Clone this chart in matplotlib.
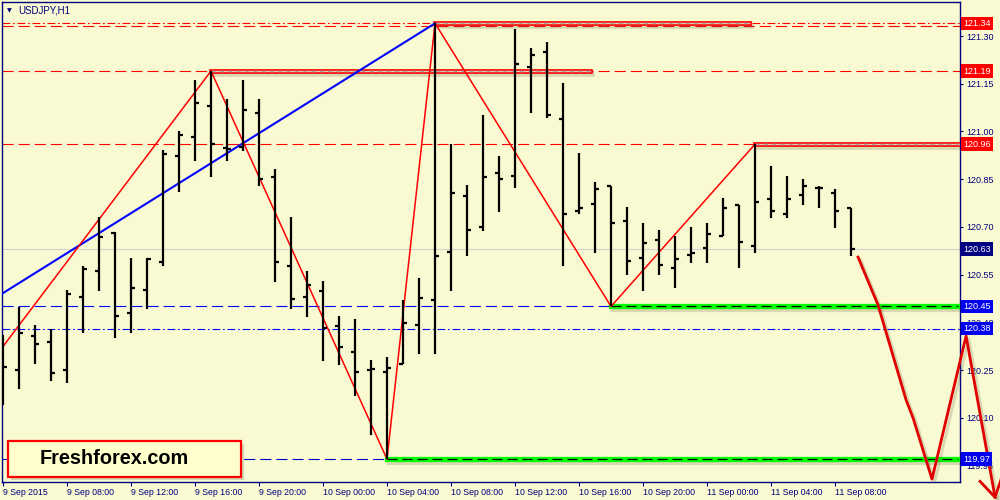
import matplotlib
matplotlib.use('Agg')
from matplotlib import pyplot as plt
from matplotlib import patheffects as pe
from matplotlib import transforms
from matplotlib.patches import Rectangle

plt.rcParams['font.family'] = ['Liberation Sans', 'DejaVu Sans']

# H1 bars, 9 Sep 04:00 .. 11 Sep 09:00
opens = [120.30, 120.25, 120.357, 120.338, 120.25, 120.48, 120.562, 120.681, 120.429, 120.501,
         120.589, 120.923, 120.984, 121.081, 120.947, 120.952, 121.059, 120.858, 120.577, 120.48,
         120.499, 120.389, 120.307, 120.25, 120.243, 120.269, 120.392, 120.47, 120.622, 120.798,
         120.699, 120.87, 120.861, 121.204, 121.251, 121.039, 120.75, 120.773, 120.829, 120.718,
         120.602, 120.659, 120.572, 120.612, 120.633, 120.671, 120.769, 120.64, 120.788, 120.74,
         120.80, 120.823, 120.807, 120.76]
highs = [120.36, 120.449, 120.391, 120.379, 120.501, 120.578, 120.731, 120.684, 120.602, 120.602,
         120.942, 121.001, 121.162, 121.19, 121.101, 121.162, 121.101, 120.881, 120.73, 120.561,
         120.53, 120.42, 120.409, 120.281, 120.29, 120.47, 120.54, 121.34, 120.96, 120.832,
         121.052, 120.923, 121.321, 121.261, 121.28, 121.151, 120.931, 120.84, 120.829, 120.762,
         120.712, 120.689, 120.671, 120.699, 120.711, 120.79, 120.769, 120.96, 120.891, 120.86,
         120.85, 120.828, 120.818, 120.76]
lows = [120.14, 120.19, 120.269, 120.215, 120.209, 120.367, 120.499, 120.351, 120.367, 120.442,
        120.578, 120.809, 120.908, 120.858, 120.908, 120.94, 120.829, 120.528, 120.441, 120.417,
        120.279, 120.266, 120.169, 120.045, 119.97, 120.269, 120.299, 120.299, 120.499, 120.609,
        120.688, 120.748, 120.821, 121.059, 121.041, 120.578, 120.739, 120.619, 120.45, 120.549,
        120.499, 120.549, 120.509, 120.587, 120.587, 120.671, 120.57, 120.619, 120.729, 120.729,
        120.769, 120.76, 120.697, 120.609]
closes = [120.26, 120.367, 120.333, 120.241, 120.489, 120.567, 120.669, 120.42, 120.508, 120.599,
          120.928, 120.99, 121.09, 120.961, 120.944, 121.067, 120.851, 120.59, 120.472, 120.517,
          120.381, 120.321, 120.243, 120.252, 120.257, 120.399, 120.477, 120.608, 120.807, 120.69,
          120.858, 120.851, 121.211, 121.241, 121.052, 120.741, 120.759, 120.819, 120.713, 120.592,
          120.65, 120.581, 120.60, 120.619, 120.678, 120.76, 120.653, 120.779, 120.751, 120.788,
          120.829, 120.823, 120.751, 120.631]

time_labels = ['9 Sep 2015', '9 Sep 08:00', '9 Sep 12:00', '9 Sep 16:00', '9 Sep 20:00',
               '10 Sep 00:00', '10 Sep 04:00', '10 Sep 08:00', '10 Sep 12:00', '10 Sep 16:00',
               '10 Sep 20:00', '11 Sep 00:00', '11 Sep 04:00', '11 Sep 08:00']
price_ticks = [119.95, 120.10, 120.25, 120.40, 120.55, 120.70, 120.85, 121.00, 121.15, 121.30]

# zigzag + trendline anchors (bar index, price)
zigzag_bars = [-0.06, 13, 24, 27, 38, 47]
zigzag_prices = [120.32, 121.19, 119.97, 121.34, 120.45, 120.96]
trend_bars = [-0.06, 27]
trend_prices = [120.49, 121.34]

# hand drawn forecast
forecast_bars = [53.44, 54.69, 56.44, 56.88, 58.06, 60.19, 62.0]
forecast_prices = [120.605, 120.454, 120.156, 120.099, 119.907, 120.357, 119.85]
arrow_bars = [61.06, 62.0, 62.4]
arrow_prices = [119.9, 119.85, 119.91]

# resistance boxes (red) and support lines (green)
res_levels = [121.34, 121.19, 120.96]
res_start = [27, 13, 47]
res_end = [46.6, 36.7, 59.8]
sup_levels = [120.45, 119.97]
sup_start = [38, 24]
sup_end = [59.7, 59.7]

last_price = 120.63

bg = '#FAFAD2'
navy = '#000080'

fig = plt.figure(figsize=(10, 5), dpi=100, facecolor=bg)
ax = fig.add_axes([0.002, 0.036, 0.958, 0.96], facecolor=bg)

# full width level lines
ax.axhline(121.34, color='red', lw=0.8, dashes=(7, 2.5, 1.5, 2.5))
ax.axhline(121.33, color='red', lw=0.8, dashes=(10, 4.5))
ax.axhline(121.19, color='red', lw=0.8, dashes=(10, 4.5))
ax.axhline(120.96, color='red', lw=0.8, dashes=(10, 4.5))
ax.axhline(last_price, color='#d3d3d3', lw=0.8)
ax.axhline(120.45, color='blue', lw=0.8, dashes=(10, 4.5))
ax.axhline(120.38, color='blue', lw=0.8, dashes=(7, 2.5, 1.5, 2.5))
ax.axhline(119.97, color='#0000cc', lw=0.8, dashes=(10, 4.5))

shadow = [pe.SimpleLineShadow(offset=(1.5, -2), shadow_color='#505030', alpha=0.2), pe.Normal()]

for lvl, s, e in zip(res_levels, res_start, res_end):
    ax.plot([s, e], [lvl, lvl], color='red', lw=3.4, solid_capstyle='projecting', path_effects=shadow, zorder=3)
    ax.plot([s, e], [lvl, lvl], color='#d8d4bc', lw=1.0, zorder=3)
    ax.plot([s, e], [lvl, lvl], color='#a8a8a8', lw=1.0, dashes=(3, 3), zorder=3)

for lvl, s, e in zip(sup_levels, sup_start, sup_end):
    ax.plot([s, e], [lvl, lvl], color='#00ff00', lw=3.8, path_effects=shadow, zorder=3)
    ax.plot([s, e], [lvl, lvl], color='k', lw=0.9, dashes=(8, 4), zorder=3)

ax.plot(trend_bars, trend_prices, color='blue', lw=1.5, zorder=4)
ax.plot(zigzag_bars, zigzag_prices, color='red', lw=1.1, zorder=4)

# OHLC bars
idx = list(range(len(closes)))
ax.vlines(idx, lows, highs, color='k', lw=1.6, zorder=5)
ax.hlines(opens, [i - 0.27 for i in idx], idx, color='k', lw=1.6, zorder=5)
ax.hlines(closes, idx, [i + 0.27 for i in idx], color='k', lw=1.6, zorder=5)

fc_shadow = [pe.SimpleLineShadow(offset=(2, -2), shadow_color='#505030', alpha=0.2), pe.Normal()]
ax.plot(forecast_bars, forecast_prices, color='#e00000', lw=2.0, clip_on=False,
        path_effects=fc_shadow, zorder=6)
ax.plot(arrow_bars, arrow_prices, color='#e00000', lw=2.0, clip_on=False,
        path_effects=fc_shadow, zorder=6)

ax.set_xlim(-0.0625, 59.81)
ax.set_ylim(119.898, 121.407)

ax.set_xticks(range(0, 4 * len(time_labels), 4))
ax.set_xticklabels(time_labels, ha='left')
ax.set_yticks(price_ticks)
ax.set_yticklabels([f'{p:.2f}' for p in price_ticks])
ax.yaxis.tick_right()
ax.tick_params(axis='x', colors=navy, labelcolor=navy, labelsize=6.3, length=3, width=0.8, pad=1.5)
ax.tick_params(axis='y', colors=navy, labelcolor=navy, labelsize=6.5, length=2.5, width=0.8, pad=2)
for sp in ax.spines.values():
    sp.set_color(navy)
    sp.set_linewidth(1)

# price labels on the right scale
tr = transforms.blended_transform_factory(ax.transAxes, ax.transData)
label_colors = {121.34: 'red', 121.19: 'red', 120.96: 'red', 120.63: navy,
                120.45: '#0000ee', 120.38: '#0000ee', 119.97: '#0000ee'}
for p, c in label_colors.items():
    ax.text(1.0035, p, f'{p:.2f}', transform=tr, ha='left', va='center', color='white',
            fontsize=6.5, clip_on=False, zorder=10,
            bbox=dict(boxstyle='square,pad=0.25', fc=c, ec='none'))

fig.text(0.007, 0.979, '\u25bc', color=navy, fontsize=4.5, va='center', family=['DejaVu Sans'])
fig.text(0.018, 0.979, 'USDJPY,H1', color=navy, fontsize=7, va='center')

# logo box
fig.add_artist(Rectangle((0.011, 0.040), 0.233, 0.072, transform=fig.transFigure,
                         fc='#808060', ec='none', alpha=0.3, zorder=7))
fig.add_artist(Rectangle((0.008, 0.046), 0.233, 0.072, transform=fig.transFigure,
                         fc='#ffffcc', ec='red', lw=1.6, zorder=8))
fig.text(0.040, 0.082, 'Freshforex.com', fontsize=14.3, fontweight='bold', color='k',
         va='center', ha='left', zorder=9)

plt.savefig('out.png', dpi=100, facecolor=bg)
